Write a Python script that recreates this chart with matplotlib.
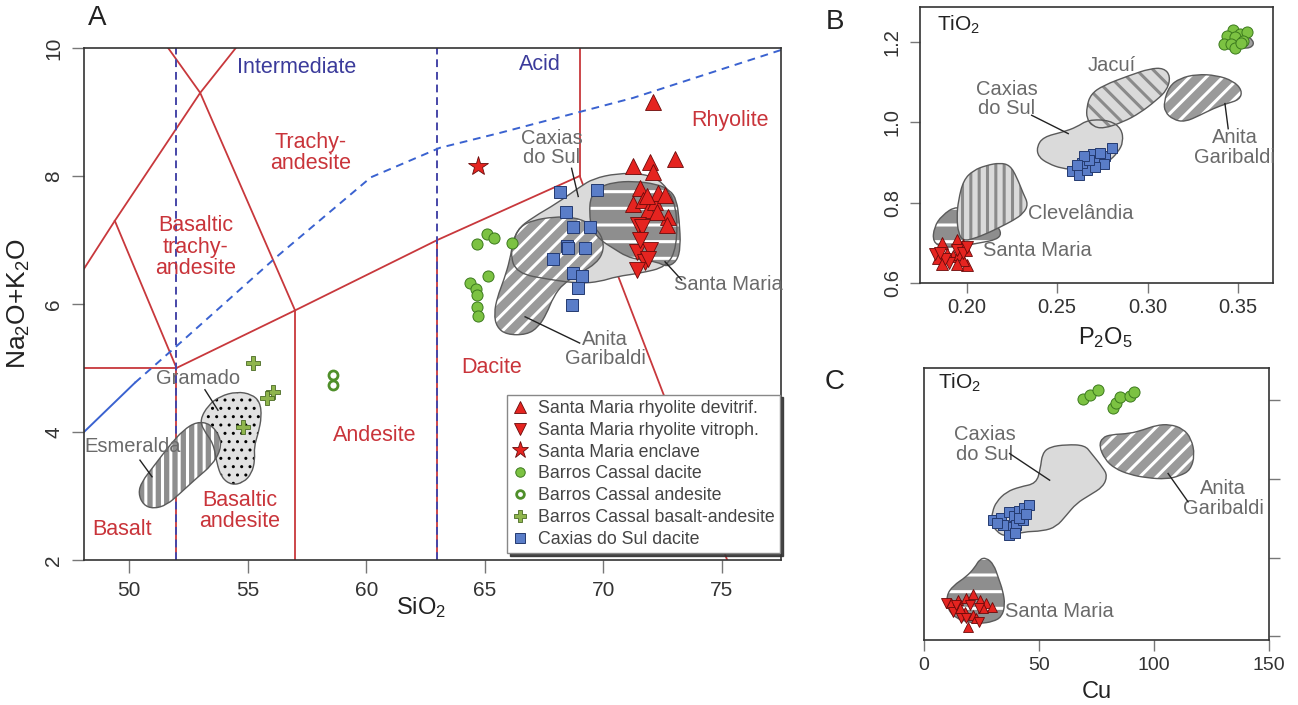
import matplotlib
matplotlib.use('Agg')
import matplotlib.pyplot as plt
import numpy as np
from matplotlib.patches import PathPatch
from matplotlib.path import Path

plt.rcParams['font.family'] = ['Liberation Sans', 'DejaVu Sans']
plt.rcParams['mathtext.fontset'] = 'custom'
plt.rcParams['mathtext.rm'] = 'Liberation Sans'
plt.rcParams['mathtext.it'] = 'Liberation Sans:italic'
plt.rcParams['mathtext.bf'] = 'Liberation Sans:bold'
plt.rcParams['hatch.linewidth'] = 2.2

# ------------------------------------------------------------------ data
# Panel A (TAS)
tas_red_lines = [
    [(48.1, 6.55), (49.4, 7.3), (53.0, 9.3), (54.5, 10.0)],
    [(49.4, 7.3), (52.0, 5.0)],
    [(51.65, 10.0), (53.0, 9.3), (57.0, 5.9)],
    [(48.1, 5.0), (52.0, 5.0), (57.0, 5.9), (63.0, 7.0), (69.0, 8.0)],
    [(52.0, 2.0), (52.0, 5.0)],
    [(57.0, 2.0), (57.0, 5.9)],
    [(63.0, 2.0), (63.0, 7.0)],
    [(69.0, 8.0), (69.0, 10.0)],
    [(69.0, 8.0), (75.22, 2.0)],
]
tas_blue_vertical = [52.0, 63.0]
alk_solid = [(48.1, 4.0), (50.25, 4.77)]
alk_dashed = [(50.25, 4.77), (52.15, 5.39), (56.2, 6.73), (60.2, 7.98), (63.1, 8.44),
              (65.6, 8.67), (71.25, 9.22), (77.5, 9.97)]

tas_class_labels = ["Intermediate", "Acid", "Trachy-\nandesite", "Basaltic\ntrachy-\nandesite",
                    "Rhyolite", "Dacite", "Andesite", "Basaltic\nandesite", "Basalt"]
tas_class_x = [57.08, 67.33, 57.67, 52.82, 75.34, 65.3, 60.37, 54.65, 49.7]
tas_class_y = [9.70, 9.75, 8.36, 6.89, 8.875, 5.0, 3.95, 2.77, 2.47]
tas_class_colors = ['#3b3b9b', '#3b3b9b'] + ['#c9343a'] * 7

A_caxias_field = [(66.06, 6.79), (66.34, 7.16), (67.05, 7.36), (68.03, 7.57), (69.01, 7.83),
                  (69.58, 7.96), (70.56, 8.04), (71.68, 8.04), (72.53, 7.91), (73.1, 7.52),
                  (73.1, 6.89), (72.67, 6.58), (71.54, 6.48), (70.56, 6.43), (69.86, 6.35),
                  (69.01, 6.32), (67.75, 6.38), (66.34, 6.48)]
A_anita_field = [(66.2, 7.0), (66.48, 7.21), (67.05, 7.31), (67.89, 7.36), (68.73, 7.36),
                 (69.44, 7.26), (69.93, 7.08), (70.03, 6.84), (69.72, 6.64), (69.01, 6.48),
                 (68.31, 6.32), (67.89, 6.11), (67.61, 5.85), (67.26, 5.64), (66.77, 5.52),
                 (65.92, 5.52), (65.5, 5.64), (65.39, 5.85), (65.53, 6.11), (65.81, 6.38),
                 (66.06, 6.69)]
A_santamaria_field = [(69.41, 7.42), (69.46, 7.68), (69.86, 7.83), (70.42, 7.9), (71.26, 7.92),
                      (72.25, 7.875), (72.81, 7.78), (73.09, 7.625), (73.2, 7.31), (73.26, 6.89),
                      (73.09, 6.66), (72.67, 6.58), (72.25, 6.66), (71.54, 6.69), (70.98, 6.74),
                      (70.42, 6.87), (69.86, 7.0), (69.5, 7.18)]
A_gramado_field = [(52.99, 4.19), (53.34, 4.42), (53.84, 4.56), (54.54, 4.63), (55.17, 4.59),
                   (55.52, 4.47), (55.59, 4.24), (55.45, 3.98), (55.27, 3.77), (55.31, 3.56),
                   (55.17, 3.35), (54.82, 3.21), (54.33, 3.17), (53.91, 3.28), (53.7, 3.51),
                   (53.56, 3.82), (53.14, 4.03)]
A_esmeralda_field = [(50.39, 3.04), (50.53, 3.22), (51.03, 3.46), (51.73, 3.8), (52.29, 4.03),
                     (52.85, 4.16), (53.42, 4.13), (53.84, 3.93), (53.87, 3.72), (53.49, 3.48),
                     (52.85, 3.28), (52.15, 3.04), (51.59, 2.86), (51.03, 2.8), (50.6, 2.86)]

A_field_names = ["Caxias\ndo Sul", "Anita\nGaribaldi", "Santa Maria", "Gramado", "Esmeralda"]
A_name_x = [67.83, 70.07, 75.25, 52.9, 50.17]
A_name_y = [8.44, 5.30, 6.30, 4.84, 3.77]
A_leaders = [[(68.66, 8.12), (68.94, 7.68)], [(66.7, 5.8), (69.0, 5.39)],
             [(72.6, 6.66), (73.3, 6.375)], [(53.2, 4.66), (53.75, 4.34)],
             [(50.46, 3.56), (50.97, 3.3)]]

A_sm_devit_x = [72.1, 71.26, 71.96, 72.08, 73.02, 71.54, 71.26, 71.68, 71.89, 72.18, 72.32, 72.6,
                72.74, 72.67, 72.25, 71.83]
A_sm_devit_y = [9.16, 8.15, 8.22, 8.07, 8.27, 7.81, 7.57, 7.63, 7.47, 7.6, 7.73, 7.7, 7.36, 7.23,
                7.44, 7.68]
A_sm_vitro_x = [71.47, 71.61, 71.4, 71.96, 71.75, 71.4, 71.89, 71.54]
A_sm_vitro_y = [7.23, 7.21, 6.82, 6.84, 6.66, 6.53, 6.71, 7.0]
A_sm_encl_x = [64.73]
A_sm_encl_y = [8.15]
A_bc_dac_x = [65.08, 65.4, 64.69, 66.13, 64.38, 64.63, 64.69, 64.66, 64.73, 65.15]
A_bc_dac_y = [7.1, 7.03, 6.94, 6.95, 6.33, 6.24, 6.14, 5.96, 5.81, 6.44]
A_bc_and_x = [58.6, 58.6]
A_bc_and_y = [4.89, 4.73]
A_bc_bas_x = [55.23, 56.07, 55.82, 54.81]
A_bc_bas_y = [5.08, 4.63, 4.53, 4.08]
A_cx_dac_x = [68.17, 69.72, 68.42, 68.73, 69.44, 68.45, 68.52, 67.89, 69.22, 68.73, 69.08, 68.94,
              68.66]
A_cx_dac_y = [7.75, 7.78, 7.44, 7.21, 7.21, 6.9, 6.87, 6.71, 6.87, 6.48, 6.43, 6.25, 5.98]

legend_labels = ["Santa Maria rhyolite devitrif.", "Santa Maria rhyolite vitroph.",
                 "Santa Maria enclave", "Barros Cassal dacite", "Barros Cassal andesite",
                 "Barros Cassal basalt-andesite", "Caxias do Sul dacite"]

# Panel B (TiO2 vs P2O5)
B_santamaria_field = [(0.1812, 0.702), (0.182, 0.739), (0.1862, 0.768), (0.1945, 0.793),
                      (0.2055, 0.773), (0.2166, 0.744), (0.2193, 0.723), (0.2166, 0.708),
                      (0.2074, 0.700), (0.1963, 0.691), (0.1871, 0.688)]
B_clevelandia_field = [(0.1954, 0.806), (0.1982, 0.856), (0.2037, 0.8805), (0.211, 0.893),
                       (0.2184, 0.899), (0.2239, 0.893), (0.2276, 0.864), (0.2313, 0.822),
                       (0.234, 0.796), (0.2313, 0.773), (0.2258, 0.756), (0.2184, 0.739),
                       (0.211, 0.723), (0.2037, 0.710), (0.1982, 0.705), (0.1954, 0.723),
                       (0.1945, 0.764)]
B_caxias_field = [(0.2387, 0.9386), (0.2423, 0.9635), (0.2534, 0.976), (0.2607, 0.988),
                  (0.2672, 1.0066), (0.2791, 1.005), (0.2856, 0.984), (0.2865, 0.951),
                  (0.2837, 0.926), (0.2782, 0.901), (0.2709, 0.889), (0.2607, 0.882),
                  (0.2525, 0.885), (0.2451, 0.897), (0.2396, 0.914)]
B_jacui_field = [(0.2663, 1.038), (0.2685, 1.0697), (0.2755, 1.092), (0.2902, 1.117),
                 (0.3012, 1.1336), (0.309, 1.135), (0.3126, 1.1145), (0.3108, 1.081),
                 (0.3049, 1.055), (0.2957, 1.023), (0.2865, 1.0008), (0.2755, 0.984),
                 (0.2696, 0.990), (0.2663, 1.009)]
B_anita_field = [(0.309, 1.0506), (0.3119, 1.0896), (0.3178, 1.1095), (0.327, 1.1195),
                 (0.338, 1.117), (0.3473, 1.103), (0.3522, 1.0797), (0.3509, 1.0564),
                 (0.3436, 1.0465), (0.3362, 1.034), (0.3288, 1.0174), (0.3206, 1.0008),
                 (0.3141, 1.0066), (0.3095, 1.0257)]
B_small_field = [(0.3505, 1.207), (0.3545, 1.215), (0.3582, 1.205), (0.3585, 1.19),
                 (0.3545, 1.183), (0.3505, 1.188)]

B_field_names = ["Jacuí", "Caxias\ndo Sul", "Anita\nGaribaldi", "Clevelândia", "Santa Maria"]
B_name_x = [0.280, 0.2221, 0.3482, 0.2340, 0.2088]
B_name_y = [1.142, 1.058, 0.937, 0.7726, 0.6797]
B_name_ha = ['center', 'center', 'center', 'left', 'left']
B_leaders = [[(0.2359, 1.0174), (0.2561, 0.9718)], [(0.3427, 1.0465), (0.3445, 0.984)]]

B_bc_dac_x = [0.3469, 0.3509, 0.355, 0.3439, 0.3484, 0.3528, 0.3421, 0.3458, 0.3484, 0.3518]
B_bc_dac_y = [1.2307, 1.2207, 1.224, 1.214, 1.2125, 1.2025, 1.1958, 1.194, 1.186, 1.1975]
B_cx_dac_x = [0.258, 0.2622, 0.2666, 0.2635, 0.2696, 0.2721, 0.2766, 0.2801, 0.2758, 0.2709,
              0.2677, 0.2648, 0.2607, 0.2736]
B_cx_dac_y = [0.8788, 0.868, 0.882, 0.8996, 0.920, 0.901, 0.917, 0.937, 0.8954, 0.8888,
              0.907, 0.9154, 0.893, 0.9237]
B_sm_devit_x = [0.1862, 0.1945, 0.1978, 0.1996, 0.2, 0.1923, 0.189, 0.196, 0.1844, 0.1862,
                0.1982, 0.1945]
B_sm_devit_y = [0.6996, 0.7079, 0.6938, 0.6813, 0.644, 0.6664, 0.673, 0.6714, 0.663, 0.648,
                0.6564, 0.648]
B_sm_vitro_x = [0.1825, 0.1904, 0.1945, 0.1978, 0.188, 0.1853, 0.2]
B_sm_vitro_y = [0.673, 0.6498, 0.683, 0.6747, 0.6606, 0.6747, 0.69]

# Panel C (TiO2 vs Cu)
C_caxias_field = [(29.7, 0.9167), (31.4, 0.942), (35.8, 0.9674), (41.6, 0.980), (48.8, 0.9886),
                  (50.6, 1.0266), (51.4, 1.0647), (54.6, 1.0816), (61.9, 1.0875), (69.9, 1.0858),
                  (72.8, 1.0647), (77.8, 1.0283), (79.7, 1.008), (77.8, 0.980), (72.0, 0.959),
                  (66.2, 0.938), (61.9, 0.908), (57.5, 0.8786), (51.7, 0.8677), (43.0, 0.866),
                  (35.8, 0.853), (31.4, 0.866), (29.3, 0.891)]
C_anita_field = [(76.1, 1.084), (77.5, 1.1053), (81.4, 1.113), (89.4, 1.1154), (95.2, 1.1247),
                 (101.0, 1.1366), (106.8, 1.139), (112.6, 1.128), (116.2, 1.1027),
                 (117.7, 1.0605), (115.8, 1.0224), (111.2, 1.008), (105.4, 0.9996),
                 (96.7, 1.003), (89.4, 1.0114), (82.9, 1.0266), (78.6, 1.050)]
C_santamaria_field = [(9.7, 0.7036), (12.6, 0.729), (18.4, 0.7518), (22.0, 0.7746),
                      (24.2, 0.7966), (27.1, 0.80), (30.3, 0.783), (32.3, 0.7493),
                      (34.3, 0.7154), (35.2, 0.680), (33.8, 0.650), (30.0, 0.6376),
                      (24.2, 0.6326), (18.4, 0.6376), (14.1, 0.646), (10.4, 0.6672)]

C_field_names = ["Caxias\ndo Sul", "Anita\nGaribaldi", "Santa Maria"]
C_name_x = [26.4, 130.0, 35.1]
C_name_y = [1.0875, 0.9505, 0.663]
C_name_ha = ['center', 'center', 'left']
C_leaders = [[(37.2, 1.0647), (54.6, 0.997)], [(106.1, 1.014), (114.8, 0.942)]]

C_bc_dac_x = [69.1, 72.0, 75.7, 82.2, 83.3, 85.4, 89.7, 91.2]
C_bc_dac_y = [1.2025, 1.2144, 1.2254, 1.1805, 1.194, 1.2085, 1.211, 1.2211]
C_cx_dac_x = [30.0, 33.6, 36.8, 39.0, 41.3, 43.5, 45.7, 37.2, 40.1, 43.0, 34.3, 37.0, 39.7, 31.7,
              41.3, 44.5]
C_cx_dac_y = [0.8956, 0.8998, 0.9167, 0.9066, 0.9184, 0.9252, 0.9336, 0.8786, 0.8829, 0.8956,
              0.8829, 0.8575, 0.8634, 0.8871, 0.8998, 0.910]
C_sm_devit_x = [11.9, 14.8, 18.4, 21.3, 24.2, 27.1, 29.7, 17.7, 21.3, 19.1, 22.8, 25.7, 15.5]
C_sm_devit_y = [0.6841, 0.6926, 0.6968, 0.707, 0.6926, 0.6841, 0.6757, 0.663, 0.6545, 0.625,
                0.646, 0.6715, 0.6715]
C_sm_vitro_x = [9.7, 12.6, 16.2, 20.1, 23.8, 14.1, 23.8, 18.4]
C_sm_vitro_y = [0.6841, 0.663, 0.646, 0.680, 0.6376, 0.680, 0.6715, 0.646]

# ------------------------------------------------------------------ styles
RED, RED_E = '#e52420', '#6a0a0a'
GRN, GRN_E = '#7cc242', '#3c7a1e'
BLU, BLU_E = '#5a7dc8', '#243a70'
CRS, CRS_E = '#8fb54d', '#4a6a24'
LINE_RED = '#c8383c'
GRAYTXT = '#6a6a6a'
LIGHT = '#dadada'
DARK = '#9a9a9a'
OUTL = '#5a5a5a'


def smooth_path(pts):
    pts = np.asarray(pts, float)
    mids = (pts + np.roll(pts, -1, axis=0)) / 2.0
    verts = [mids[-1]]
    codes = [Path.MOVETO]
    for i in range(len(pts)):
        verts += [pts[i], mids[i]]
        codes += [Path.CURVE3, Path.CURVE3]
    verts.append(mids[-1])
    codes.append(Path.CLOSEPOLY)
    return Path(verts, codes)


def field(ax, pts, face, hatch=None, hcolor='white', z=2, hlw=2.2):
    p = smooth_path(pts)
    if hatch:
        with plt.rc_context({'hatch.linewidth': hlw}):
            patch = PathPatch(p, facecolor=face, edgecolor=hcolor, lw=0, hatch=hatch, zorder=z)
        if hasattr(patch, 'set_hatch_linewidth'):
            patch.set_hatch_linewidth(hlw)
        ax.add_patch(patch)
    else:
        ax.add_patch(PathPatch(p, facecolor=face, edgecolor='none', zorder=z))
    ax.add_patch(PathPatch(p, fill=False, edgecolor=OUTL, lw=1.0, zorder=z + 0.01))


def style_axes(ax, fs):
    for s in ax.spines.values():
        s.set_color('#333333')
        s.set_linewidth(1.2)
    ax.tick_params(direction='out', color='#777777', labelcolor='#333333', labelsize=fs,
                   length=9, width=1.0)


fig = plt.figure(figsize=(12.98, 7.05), dpi=100)

# ================================================================== A
axA = fig.add_axes([0.0647, 0.2057, 0.537, 0.7262])
axA.set_xlim(48.1, 77.49)
axA.set_ylim(2, 10)
style_axes(axA, 15)
axA.set_xticks([50, 55, 60, 65, 70, 75])
axA.set_yticks([2, 4, 6, 8, 10])
axA.tick_params(axis='y', labelrotation=90, pad=6)
for lab in axA.get_yticklabels():
    lab.set_va('center')
axA.tick_params(axis='x', pad=6)

for seg in tas_red_lines:
    xs, ys = zip(*seg)
    axA.plot(xs, ys, color=LINE_RED, lw=1.3, zorder=1)
for xv in tas_blue_vertical:
    axA.plot([xv, xv], [2, 10], color='#4646a8', lw=1.4, ls=(0, (4, 2.5)), zorder=1.1)
xs, ys = zip(*alk_solid)
axA.plot(xs, ys, color='#3a62d0', lw=1.4, zorder=1.1)
xs, ys = zip(*alk_dashed)
axA.plot(xs, ys, color='#3a62d0', lw=1.4, ls=(0, (4, 3)), zorder=1.1)

field(axA, A_caxias_field, LIGHT)
field(axA, A_anita_field, DARK, hatch='//')
field(axA, A_santamaria_field, '#8e8e8e', hatch='-')
field(axA, A_gramado_field, '#e2e2e2', hatch='..', hcolor='black', hlw=1.0)
field(axA, A_esmeralda_field, '#8e8e8e', hatch='||')

for t, x, y, c in zip(tas_class_labels, tas_class_x, tas_class_y, tas_class_colors):
    axA.text(x, y, t, color=c, fontsize=15.5, ha='center', va='center', linespacing=1.02,
             zorder=3)
for t, x, y in zip(A_field_names, A_name_x, A_name_y):
    axA.text(x, y, t, color=GRAYTXT, fontsize=14.5, ha='center', va='center',
             linespacing=1.02, zorder=3)
for seg in A_leaders:
    xs, ys = zip(*seg)
    axA.plot(xs, ys, color='#222222', lw=1.0, zorder=3)

mk = dict(ls='none', zorder=4)
h1, = axA.plot(A_sm_devit_x, A_sm_devit_y, marker='^', ms=11, mfc=RED, mec=RED_E, mew=0.6,
               **mk)
h2, = axA.plot(A_sm_vitro_x, A_sm_vitro_y, marker='v', ms=11, mfc=RED, mec=RED_E, mew=0.6,
               **mk)
h3, = axA.plot(A_sm_encl_x, A_sm_encl_y, marker='*', ms=15, mfc=RED, mec=RED_E, mew=0.6, **mk)
h4, = axA.plot(A_bc_dac_x, A_bc_dac_y, marker='o', ms=8, mfc=GRN, mec=GRN_E, mew=0.7, **mk)
h5, = axA.plot(A_bc_and_x, A_bc_and_y, marker='o', ms=6.5, mfc='white', mec='#4f8f2a', mew=2.0,
               **mk)
h6, = axA.plot(A_bc_bas_x, A_bc_bas_y, marker='P', ms=10, mfc=CRS, mec=CRS_E, mew=0.6, **mk)
h7, = axA.plot(A_cx_dac_x, A_cx_dac_y, marker='s', ms=9, mfc=BLU, mec=BLU_E, mew=0.7, **mk)

leg = axA.legend([h1, h2, h3, h4, h5, h6, h7], legend_labels, loc='lower right',
                 bbox_to_anchor=(0.9985, 0.0135), borderaxespad=0, fontsize=12.8,
                 labelspacing=0.27, handlelength=0.9, handletextpad=0.55, borderpad=0.3,
                 fancybox=False, framealpha=1, edgecolor='#888888',
                 shadow={'ox': 2, 'oy': -2, 'color': '#333333', 'alpha': 0.9},
                 markerscale=0.85)
leg.get_frame().set_linewidth(1.0)
leg.set_zorder(6)
for t in leg.get_texts():
    t.set_color('#444444')

axA.yaxis.set_label_coords(-0.074, 0.514)
axA.set_ylabel('Na$_2$O+K$_2$O', fontsize=19, color='#222222')
axA.text(0.484, -0.093, 'SiO$_2$', transform=axA.transAxes, fontsize=17, ha='center',
         va='center', color='#222222')

# ================================================================== B
axB = fig.add_axes([0.7088, 0.5986, 0.272, 0.3915])
axB.set_xlim(0.1742, 0.3693)
axB.set_ylim(0.6, 1.287)
style_axes(axB, 14.5)
axB.set_xticks([0.20, 0.25, 0.30, 0.35])
axB.set_xticklabels(['0.20', '0.25', '0.30', '0.35'])
axB.set_yticks([0.6, 0.8, 1.0, 1.2])
axB.set_yticklabels(['0.6', '0.8', '1.0', '1.2'])
axB.tick_params(axis='y', labelrotation=90, pad=6, length=7)
axB.tick_params(axis='x', pad=4, length=7)
for lab in axB.get_yticklabels():
    lab.set_va('center')

field(axB, B_santamaria_field, '#8e8e8e', hatch='-')
field(axB, B_clevelandia_field, LIGHT, hatch='||', hcolor='#8a8a8a', z=2.1)
field(axB, B_caxias_field, LIGHT)
field(axB, B_jacui_field, LIGHT, hatch='\\\\', hcolor='#8a8a8a')
field(axB, B_anita_field, DARK, hatch='//')
field(axB, B_small_field, '#a0a0a0')

for t, x, y, ha in zip(B_field_names, B_name_x, B_name_y, B_name_ha):
    axB.text(x, y, t, color=GRAYTXT, fontsize=14.5, ha=ha, va='center', linespacing=1.02,
             zorder=3)
for seg in B_leaders:
    xs, ys = zip(*seg)
    axB.plot(xs, ys, color='#222222', lw=1.0, zorder=3)

axB.plot(B_bc_dac_x, B_bc_dac_y, marker='o', ms=8, mfc=GRN, mec=GRN_E, mew=0.7, **mk)
axB.plot(B_cx_dac_x, B_cx_dac_y, marker='s', ms=7, mfc=BLU, mec=BLU_E, mew=0.7, **mk)
axB.plot(B_sm_devit_x, B_sm_devit_y, marker='^', ms=8, mfc=RED, mec=RED_E, mew=0.6, **mk)
axB.plot(B_sm_vitro_x, B_sm_vitro_y, marker='v', ms=8, mfc=RED, mec=RED_E, mew=0.6, **mk)

axB.text(0.048, 0.935, 'TiO$_2$', transform=axB.transAxes, fontsize=15, ha='left',
         va='center', color='#222222')
axB.text(0.524, -0.196, 'P$_2$O$_5$', transform=axB.transAxes, fontsize=17, ha='center',
         va='center', color='#222222')

# ================================================================== C
axC = fig.add_axes([0.7119, 0.0922, 0.2658, 0.3858])
axC.set_xlim(0, 150)
axC.set_ylim(0.591, 1.282)
style_axes(axC, 14)
axC.set_xticks([0, 50, 100, 150])
axC.set_yticks([0.6, 0.8, 1.0, 1.2])
axC.yaxis.tick_right()
axC.tick_params(axis='y', labelright=False, length=8)
axC.tick_params(axis='x', pad=4, length=8)

field(axC, C_caxias_field, LIGHT)
field(axC, C_anita_field, DARK, hatch='//')
field(axC, C_santamaria_field, '#8e8e8e', hatch='-')

for t, x, y, ha in zip(C_field_names, C_name_x, C_name_y, C_name_ha):
    axC.text(x, y, t, color=GRAYTXT, fontsize=14.5, ha=ha, va='center', linespacing=1.02,
             zorder=3)
for seg in C_leaders:
    xs, ys = zip(*seg)
    axC.plot(xs, ys, color='#222222', lw=1.0, zorder=3)

axC.plot(C_bc_dac_x, C_bc_dac_y, marker='o', ms=8, mfc=GRN, mec=GRN_E, mew=0.7, **mk)
axC.plot(C_cx_dac_x, C_cx_dac_y, marker='s', ms=7, mfc=BLU, mec=BLU_E, mew=0.7, **mk)
axC.plot(C_sm_devit_x, C_sm_devit_y, marker='^', ms=7.5, mfc=RED, mec=RED_E, mew=0.6, **mk)
axC.plot(C_sm_vitro_x, C_sm_vitro_y, marker='v', ms=7.5, mfc=RED, mec=RED_E, mew=0.6, **mk)

axC.text(0.04, 0.945, 'TiO$_2$', transform=axC.transAxes, fontsize=15, ha='left',
         va='center', color='#222222')
axC.text(0.501, -0.191, 'Cu', transform=axC.transAxes, fontsize=17, ha='center',
         va='center', color='#222222')

# panel letters
fig.text(0.0747, 0.9745, 'A', fontsize=20, ha='center', va='center', color='#222222')
fig.text(0.643, 0.969, 'B', fontsize=20, ha='center', va='center', color='#222222')
fig.text(0.643, 0.458, 'C', fontsize=20, ha='center', va='center', color='#222222')

fig.savefig('out.png', dpi=100)
